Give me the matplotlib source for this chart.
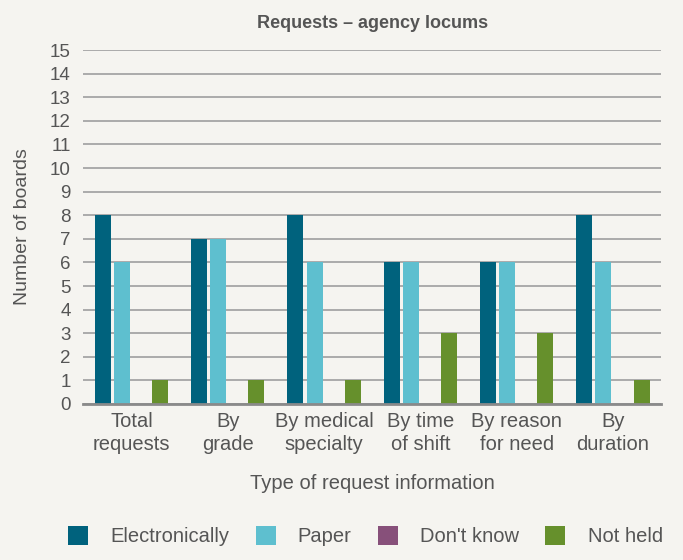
import matplotlib
matplotlib.use("Agg")
import matplotlib.pyplot as plt
import numpy as np
from matplotlib.patches import Patch

categories = ["Total\nrequests", "By\ngrade", "By medical\nspecialty", "By time\nof shift", "By reason\nfor need", "By\nduration"]
series_names = ["Electronically", "Paper", "Don't know", "Not held"]
electronically = [8, 7, 8, 6, 6, 8]
paper = [6, 7, 6, 6, 6, 6]
dont_know = [0, 0, 0, 0, 0, 0]
not_held = [1, 1, 1, 3, 3, 1]
colors = ["#00627d", "#5ebfcf", "#87507a", "#66902c"]

bg = "#f5f4f0"
txt = "#555555"
fam = ['Liberation Sans', 'DejaVu Sans']
plt.rcParams['font.family'] = fam

fig = plt.figure(figsize=(6.83, 5.6), dpi=100, facecolor=bg)
ax = fig.add_axes([0.122, 0.2786, 0.846, 0.632])
ax.set_facecolor(bg)

x = np.arange(len(categories))
slot = 0.198
bw = 0.166
data = [electronically, paper, dont_know, not_held]
for i, (vals, c, n) in enumerate(zip(data, colors, series_names)):
    ax.bar(x + (i - 1.5) * slot, vals, width=bw, color=c, label=n, zorder=3)

ax.set_xlim(-0.5, len(categories) - 0.5)
ax.set_ylim(0, 15)
ax.set_yticks(range(0, 16))
ax.yaxis.grid(True, color="#a5a5a5", linewidth=1.3, zorder=0)
ax.set_axisbelow(True)
for s in ["top", "right", "left"]:
    ax.spines[s].set_visible(False)
ax.spines["bottom"].set_color("#8a8a8a")
ax.spines["bottom"].set_linewidth(2)
ax.spines["bottom"].set_zorder(4)
ax.tick_params(axis="y", length=0, labelsize=13.5, labelcolor=txt, pad=9)
ax.tick_params(axis="x", length=0, labelsize=14.5, labelcolor=txt, pad=6)
ax.set_xticks(x)
ax.set_xticklabels(categories, fontsize=14.5, color=txt, linespacing=1.25)

ax.set_title("Requests \u2013 agency locums", fontsize=13, fontweight="bold", color=txt, pad=16)
ax.set_ylabel("Number of boards", fontsize=14, color=txt, labelpad=14)
ax.set_xlabel("Type of request information", fontsize=14.5, color=txt, labelpad=14)

handles = [Patch(facecolor=c) for c in colors]
leg = fig.legend(handles, series_names, loc="lower center", bbox_to_anchor=(0.535, -0.008), ncol=4,
                 frameon=False, handlelength=1.0, handleheight=1.1, columnspacing=1.3, handletextpad=1.1,
                 prop={'family': fam, 'size': 14.5})
for t in leg.get_texts():
    t.set_color(txt)

fig.savefig("out.png", dpi=100, facecolor=bg)
